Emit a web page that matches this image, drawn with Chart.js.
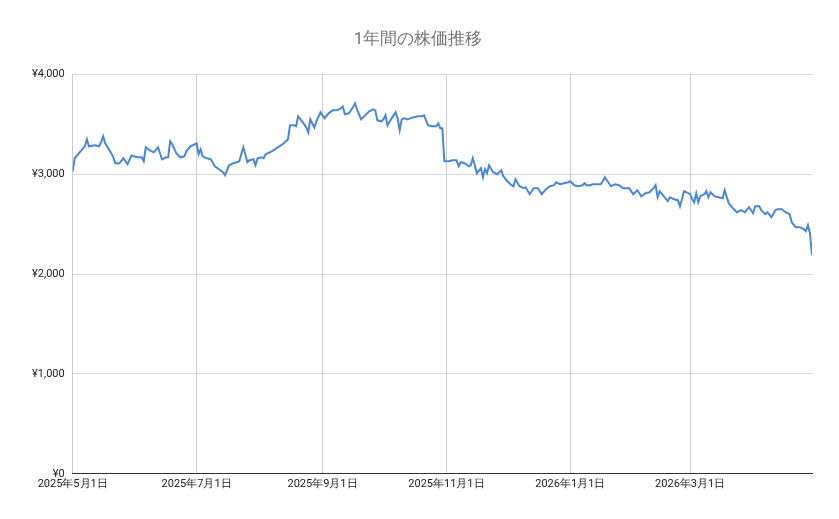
<!DOCTYPE html>
<html><head><meta charset="utf-8">
<script src="https://cdn.jsdelivr.net/npm/chart.js@4"></script>
<style>html,body{margin:0;padding:0;background:#fff}#w{width:839px;height:519px}</style>
</head><body><div id="w"><canvas id="c"></canvas></div>
<script>
const days=[0,1,3,6,7,8,11,13,14,15,16,19,20,21,23,25,27,29,30,32,34,35,36,38,40,42,44,46,47,48,49,51,53,55,56,58,60,61,62,63,64,66,68,70,72,74,75,77,79,81,82,84,85,86,87,89,90,91,93,94,95,98,101,104,106,107,109,110,111,113,115,116,117,119,120,122,124,126,128,130,132,133,134,136,138,139,140,142,144,146,148,149,150,152,153,154,155,157,159,160,161,162,163,165,166,168,170,172,173,175,177,179,180,181,182,183,185,187,189,190,191,193,195,196,197,198,199,201,202,203,204,205,207,209,211,212,214,216,217,218,220,222,223,225,227,229,231,233,235,237,238,240,242,244,245,247,249,251,252,253,255,256,258,260,261,262,263,265,267,269,271,273,274,276,278,280,282,284,286,287,288,289,291,293,294,296,298,299,301,303,304,305,306,307,308,309,311,312,313,314,316,318,320,321,323,325,327,329,331,333,335,336,338,339,341,342,344,346,347,349,351,353,354,356,358,360,361,362,363,364];
const prices=[3030,3160,3210,3280,3350,3280,3290,3280,3320,3380,3310,3210,3170,3110,3110,3160,3100,3190,3180,3170,3170,3130,3270,3240,3220,3270,3150,3170,3170,3330,3300,3210,3170,3180,3230,3280,3300,3310,3200,3250,3180,3160,3150,3080,3050,3020,2990,3090,3110,3120,3130,3270,3200,3120,3140,3150,3090,3160,3170,3160,3200,3230,3270,3310,3350,3490,3490,3480,3580,3530,3470,3420,3550,3470,3530,3620,3560,3610,3640,3640,3660,3680,3600,3610,3670,3710,3650,3550,3590,3630,3650,3640,3540,3530,3550,3590,3490,3560,3620,3560,3440,3550,3560,3550,3560,3570,3580,3580,3590,3490,3480,3480,3510,3460,3460,3130,3130,3140,3140,3080,3120,3110,3080,3090,3160,3090,3010,3060,2970,3050,3010,3090,3020,3000,3040,2980,2930,2890,2880,2950,2880,2860,2870,2800,2860,2860,2800,2850,2880,2890,2920,2900,2910,2920,2930,2890,2880,2890,2910,2890,2890,2900,2900,2900,2930,2970,2940,2880,2900,2890,2860,2860,2860,2800,2840,2780,2810,2820,2860,2890,2770,2830,2780,2730,2770,2750,2740,2680,2830,2810,2800,2750,2720,2810,2720,2780,2800,2830,2770,2820,2780,2770,2760,2840,2710,2660,2620,2640,2620,2670,2610,2680,2680,2640,2600,2620,2570,2640,2650,2650,2620,2600,2520,2470,2470,2450,2430,2490,2410,2190];
const tickDays=[0,61,123,184,245,304];
const tickLabels=['2025年5月1日','2025年7月1日','2025年9月1日','2025年11月1日','2026年1月1日','2026年3月1日'];
const yTicks=[0,1000,2000,3000,4000];
const font={family:'Roboto, Arial, sans-serif',size:11};
new Chart(document.getElementById('c'),{
type:'line',
data:{datasets:[{data:days.map((d,i)=>({x:d,y:prices[i]})),borderColor:'#4a86dc',borderWidth:2,pointRadius:0,tension:0}]},
options:{responsive:true,maintainAspectRatio:false,animation:false,
layout:{padding:{left:24,right:27,top:12,bottom:24}},
plugins:{legend:{display:false},tooltip:{enabled:false},
title:{display:true,text:'1年間の株価推移',color:'#757575',font:{family:'Roboto, Arial, sans-serif',size:17,weight:'normal'},padding:{top:18,bottom:24}}},
scales:{
x:{type:'linear',min:0,max:364,afterBuildTicks:a=>{a.ticks=tickDays.map(v=>({value:v}));},
ticks:{color:'#222',font,maxRotation:0,autoSkip:false,padding:4,callback:(v)=>tickLabels[tickDays.indexOf(v)]},
grid:{color:'#cccccc',drawTicks:false},border:{color:'#333',width:1}},
y:{min:0,max:4000,afterBuildTicks:a=>{a.ticks=yTicks.map(v=>({value:v}));},
ticks:{color:'#222',font,padding:8,callback:v=>'¥'+v.toLocaleString('en-US')},
grid:{color:'#d9d9d9',drawTicks:false},border:{display:false}}
}}});
</script></body></html>
